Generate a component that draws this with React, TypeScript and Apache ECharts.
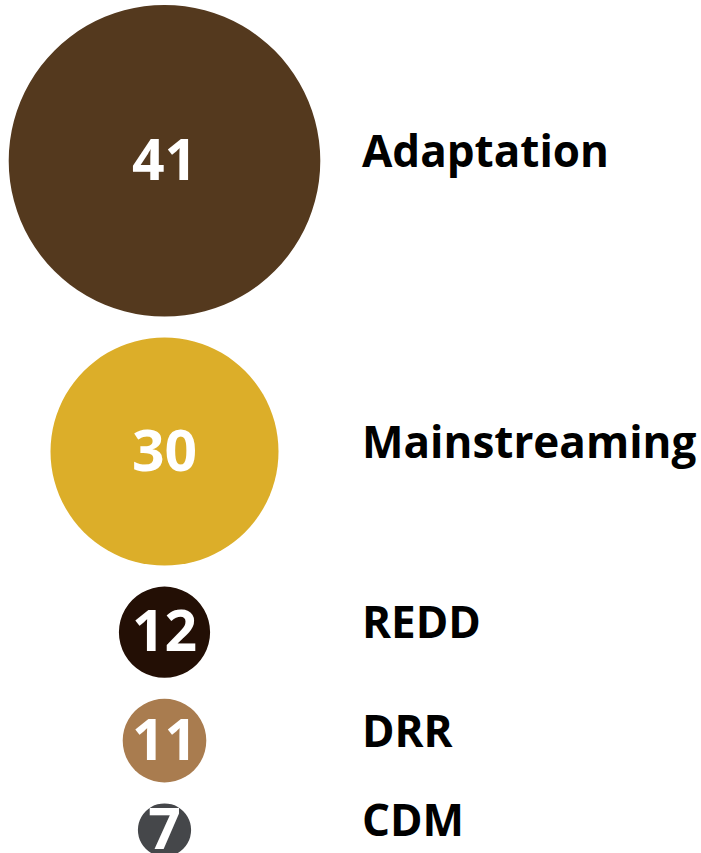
import React, { useEffect, useRef } from "react";
import * as echarts from "echarts";

const categories = ["Adaptation", "Mainstreaming", "REDD", "DRR", "CDM"];
const values = [41, 30, 12, 11, 7];
const colors = ["#54391E", "#DCAE29", "#230F05", "#A97C4F", "#45474A"];

const W = 701;
const H = 853;
const PX_PER_UNIT = 7.6; // diameter per unit of value
const TOP = 5;
const GAP = 21;
const CIRCLE_X = 164.5;
const LABEL_X = 362;

export default function App() {
  const ref = useRef<HTMLDivElement>(null);
  useEffect(() => {
    if (!ref.current) return;
    const chart = echarts.init(ref.current, null, { renderer: "svg" });

    // stack circles vertically, each sized by its value
    const centers: number[] = [];
    let cursor = TOP;
    values.forEach((v) => {
      const d = v * PX_PER_UNIT;
      centers.push(cursor + d / 2);
      cursor += d + GAP;
    });

    const fontFamily = "'Open Sans', 'Noto Sans', sans-serif";

    chart.setOption({
      animation: false,
      backgroundColor: "#ffffff",
      grid: { left: 0, right: 0, top: 0, bottom: 0 },
      xAxis: { type: "value", min: 0, max: W, show: false },
      yAxis: { type: "value", min: 0, max: H, inverse: true, show: false },
      series: [
        {
          type: "scatter",
          symbol: "circle",
          data: values.map((v, i) => ({
            name: categories[i],
            value: [CIRCLE_X, centers[i], v],
            symbolSize: v * PX_PER_UNIT,
            itemStyle: { color: colors[i], opacity: 1 },
          })),
          itemStyle: { opacity: 1 },
          label: {
            show: true,
            position: "inside",
            offset: [0, -3],
            formatter: (p: any) => String(p.value[2]),
            color: "#ffffff",
            opacity: 1,
            fontFamily,
            fontWeight: "bold",
            fontSize: 57,
            lineHeight: 42,
          },
          emphasis: { disabled: true },
          z: 2,
        },
        {
          type: "scatter",
          symbolSize: 0,
          data: categories.map((c, i) => ({
            name: c,
            value: [LABEL_X, centers[i]],
          })),
          label: {
            show: true,
            position: "right",
            distance: 0,
            offset: [0, -11],
            formatter: (p: any) => p.name,
            color: "#000000",
            opacity: 1,
            fontFamily,
            fontWeight: "bold",
            fontSize: 44,
          },
          itemStyle: { color: "transparent", opacity: 1 },
          emphasis: { disabled: true },
          z: 3,
        },
      ],
    });
    return () => chart.dispose();
  }, []);

  return (
    <div
      ref={ref}
      style={{ position: "fixed", left: 0, top: 0, width: W, height: H, background: "#fff" }}
    />
  );
}
